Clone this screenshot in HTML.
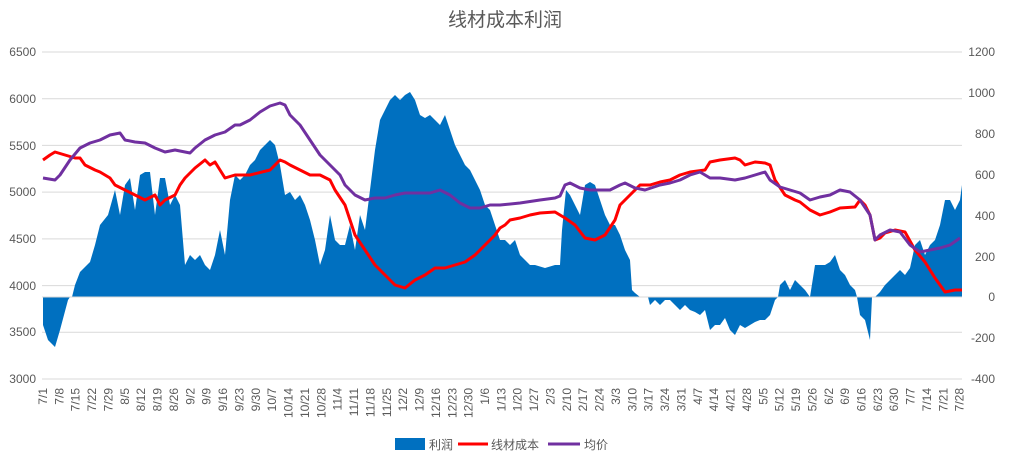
<!DOCTYPE html>
<html><head><meta charset="utf-8"><style>
body{margin:0;background:#fff;}
svg{display:block;font-family:"Liberation Sans","Noto Sans CJK SC",sans-serif;}
.t{font-size:12px;fill:#595959;}
</style></head><body>
<svg width="1011" height="465" viewBox="0 0 1011 465">
<rect width="1011" height="465" fill="#fff"/>
<text x="505" y="26" text-anchor="middle" font-size="19" fill="#595959">线材成本利润</text>
<g stroke="#d9d9d9" stroke-width="1">
<line x1="42" x2="962" y1="52" y2="52"/><line x1="42" x2="962" y1="98.7" y2="98.7"/>
<line x1="42" x2="962" y1="145.4" y2="145.4"/><line x1="42" x2="962" y1="192.1" y2="192.1"/>
<line x1="42" x2="962" y1="238.9" y2="238.9"/><line x1="42" x2="962" y1="285.6" y2="285.6"/>
<line x1="42" x2="962" y1="332.3" y2="332.3"/><line x1="42" x2="962" y1="379" y2="379"/>
</g>
<g class="t" text-anchor="end">
<text x="36" y="56">6500</text><text x="36" y="103">6000</text><text x="36" y="150">5500</text>
<text x="36" y="196">5000</text><text x="36" y="243">4500</text><text x="36" y="290">4000</text>
<text x="36" y="336">3500</text><text x="36" y="383">3000</text>
</g>
<g class="t" text-anchor="end">
<text x="995" y="56">1200</text><text x="995" y="97">1000</text><text x="995" y="138">800</text>
<text x="995" y="179">600</text><text x="995" y="220">400</text><text x="995" y="261">200</text>
<text x="995" y="301">0</text><text x="995" y="342">-200</text><text x="995" y="383">-400</text>
</g>
<path fill="#0070c0" d="M43,297 L43,325 48,340 55,347 60,330 68,300 70,297 72,297 75,285 80,272 90,262 95,245 100,225 108,215 115,190 120,215 125,185 130,178 135,210 140,175 145,172 150,172 155,215 160,178 165,178 170,205 175,195 180,205 185,265 190,255 195,260 200,255 205,265 210,270 215,255 220,230 225,255 230,200 235,175 240,180 245,175 250,165 255,160 260,150 265,145 270,140 275,145 280,165 285,195 290,192 295,200 300,195 305,205 310,220 315,240 320,265 325,250 330,215 335,240 340,245 345,245 350,225 355,250 360,215 365,230 370,190 375,150 380,120 385,110 390,100 395,95 400,100 405,95 410,92 415,100 420,115 425,118 430,115 435,120 440,125 445,115 450,130 455,145 460,155 465,165 470,170 475,180 480,190 485,205 490,210 495,225 500,240 505,240 510,245 515,240 520,255 525,260 530,265 535,265 545,268 555,265 560,265 562,230 566,190 570,195 575,205 580,215 585,185 590,182 595,185 600,200 605,215 610,225 615,225 620,235 625,250 630,260 632,290 635,293 640,297 648,297 650,305 655,300 660,305 665,300 670,300 675,305 680,310 685,305 690,310 695,312 700,315 705,310 710,330 715,325 720,325 725,318 730,330 735,335 740,325 745,328 750,325 755,322 760,320 765,320 770,315 775,300 778,297 780,285 785,280 790,290 795,280 800,285 805,290 810,297 815,265 825,265 830,262 835,255 840,270 845,275 850,285 855,290 857,297 860,315 865,320 870,340 872,297 875,297 880,292 885,285 890,280 895,275 900,270 905,275 910,268 915,245 920,240 925,255 930,245 935,240 940,225 945,200 950,200 955,210 960,200 962,185 962,297 Z"/>
<polyline fill="none" stroke="#ff0000" stroke-width="3" stroke-linejoin="round" points="43,160 50,155 55,152 65,155 75,158 80,158 85,165 95,170 100,172 110,178 115,185 125,190 135,195 145,200 155,195 160,205 165,200 175,195 180,185 185,178 195,168 205,160 210,165 215,162 225,178 235,175 250,175 270,170 280,160 285,162 290,165 300,170 310,175 320,175 330,180 335,190 345,205 350,220 355,235 365,250 375,265 385,275 395,285 405,288 415,280 425,275 435,268 445,268 455,265 465,262 475,255 485,245 495,235 500,228 505,225 510,220 520,218 530,215 540,213 555,212 560,215 565,218 575,225 585,238 595,240 605,235 615,220 620,205 625,200 630,195 640,185 650,185 660,182 670,180 680,175 690,172 705,170 710,162 720,160 735,158 740,160 745,165 755,162 765,163 770,165 775,180 785,195 795,200 800,202 810,210 820,215 830,212 840,208 855,207 860,200 865,205 870,215 875,240 880,238 885,233 895,230 905,232 915,250 925,262 935,278 945,292 955,290 962,290"/>
<polyline fill="none" stroke="#7030a0" stroke-width="3" stroke-linejoin="round" points="43,178 55,180 60,175 70,160 80,148 90,143 100,140 110,135 120,133 125,140 135,142 145,143 155,148 165,152 175,150 185,152 190,153 195,148 205,140 215,135 225,132 235,125 240,125 250,120 260,112 270,106 280,103 285,105 290,115 300,125 310,140 320,155 330,165 340,175 345,185 355,195 365,200 375,198 385,198 395,195 405,193 430,193 440,190 450,195 460,203 470,208 480,208 490,205 500,205 520,203 540,200 555,198 560,196 565,185 570,183 580,188 590,190 610,190 620,185 625,183 635,188 645,190 660,185 670,183 680,180 690,175 700,172 710,178 720,178 735,180 745,178 755,175 765,172 770,180 780,187 790,190 800,193 810,200 820,197 830,195 840,190 850,192 860,200 870,215 875,240 880,235 890,230 900,232 910,245 920,252 930,250 940,248 950,245 960,238"/>
<line x1="42" x2="962" y1="297" y2="297" stroke="#d9d9d9"/>
<g class="t" text-anchor="end" font-size="12">
<text transform="translate(47,388) rotate(-90)">7/1</text>
<text transform="translate(63.4,388) rotate(-90)">7/8</text>
<text transform="translate(79.7,388) rotate(-90)">7/15</text>
<text transform="translate(96.1,388) rotate(-90)">7/22</text>
<text transform="translate(112.5,388) rotate(-90)">7/29</text>
<text transform="translate(128.9,388) rotate(-90)">8/5</text>
<text transform="translate(145.2,388) rotate(-90)">8/12</text>
<text transform="translate(161.6,388) rotate(-90)">8/19</text>
<text transform="translate(178,388) rotate(-90)">8/26</text>
<text transform="translate(194.3,388) rotate(-90)">9/2</text>
<text transform="translate(210.7,388) rotate(-90)">9/9</text>
<text transform="translate(227.1,388) rotate(-90)">9/16</text>
<text transform="translate(243.4,388) rotate(-90)">9/23</text>
<text transform="translate(259.8,388) rotate(-90)">9/30</text>
<text transform="translate(276.2,388) rotate(-90)">10/7</text>
<text transform="translate(292.6,388) rotate(-90)">10/14</text>
<text transform="translate(308.9,388) rotate(-90)">10/21</text>
<text transform="translate(325.3,388) rotate(-90)">10/28</text>
<text transform="translate(341.7,388) rotate(-90)">11/4</text>
<text transform="translate(358,388) rotate(-90)">11/11</text>
<text transform="translate(374.4,388) rotate(-90)">11/18</text>
<text transform="translate(390.8,388) rotate(-90)">11/25</text>
<text transform="translate(407.1,388) rotate(-90)">12/2</text>
<text transform="translate(423.5,388) rotate(-90)">12/9</text>
<text transform="translate(439.9,388) rotate(-90)">12/16</text>
<text transform="translate(456.3,388) rotate(-90)">12/23</text>
<text transform="translate(472.6,388) rotate(-90)">12/30</text>
<text transform="translate(489,388) rotate(-90)">1/6</text>
<text transform="translate(505.4,388) rotate(-90)">1/13</text>
<text transform="translate(521.7,388) rotate(-90)">1/20</text>
<text transform="translate(538.1,388) rotate(-90)">1/27</text>
<text transform="translate(554.5,388) rotate(-90)">2/3</text>
<text transform="translate(570.8,388) rotate(-90)">2/10</text>
<text transform="translate(587.2,388) rotate(-90)">2/17</text>
<text transform="translate(603.6,388) rotate(-90)">2/24</text>
<text transform="translate(620,388) rotate(-90)">3/3</text>
<text transform="translate(636.3,388) rotate(-90)">3/10</text>
<text transform="translate(652.7,388) rotate(-90)">3/17</text>
<text transform="translate(669.1,388) rotate(-90)">3/24</text>
<text transform="translate(685.4,388) rotate(-90)">3/31</text>
<text transform="translate(701.8,388) rotate(-90)">4/7</text>
<text transform="translate(718.2,388) rotate(-90)">4/14</text>
<text transform="translate(734.5,388) rotate(-90)">4/21</text>
<text transform="translate(750.9,388) rotate(-90)">4/28</text>
<text transform="translate(767.3,388) rotate(-90)">5/5</text>
<text transform="translate(783.7,388) rotate(-90)">5/12</text>
<text transform="translate(800,388) rotate(-90)">5/19</text>
<text transform="translate(816.4,388) rotate(-90)">5/26</text>
<text transform="translate(832.8,388) rotate(-90)">6/2</text>
<text transform="translate(849.1,388) rotate(-90)">6/9</text>
<text transform="translate(865.5,388) rotate(-90)">6/16</text>
<text transform="translate(881.9,388) rotate(-90)">6/23</text>
<text transform="translate(898.2,388) rotate(-90)">6/30</text>
<text transform="translate(914.6,388) rotate(-90)">7/7</text>
<text transform="translate(931,388) rotate(-90)">7/14</text>
<text transform="translate(947.4,388) rotate(-90)">7/21</text>
<text transform="translate(963.7,388) rotate(-90)">7/28</text>
</g>
<rect x="395" y="438" width="30" height="12" fill="#0070c0"/>
<text x="429" y="449" class="t" font-size="13">利润</text>
<line x1="458" x2="488" y1="444" y2="444" stroke="#ff0000" stroke-width="3"/>
<text x="491" y="449" class="t" font-size="13">线材成本</text>
<line x1="548" x2="580" y1="444" y2="444" stroke="#7030a0" stroke-width="3"/>
<text x="584" y="449" class="t" font-size="13">均价</text>
</svg>
</body></html>
